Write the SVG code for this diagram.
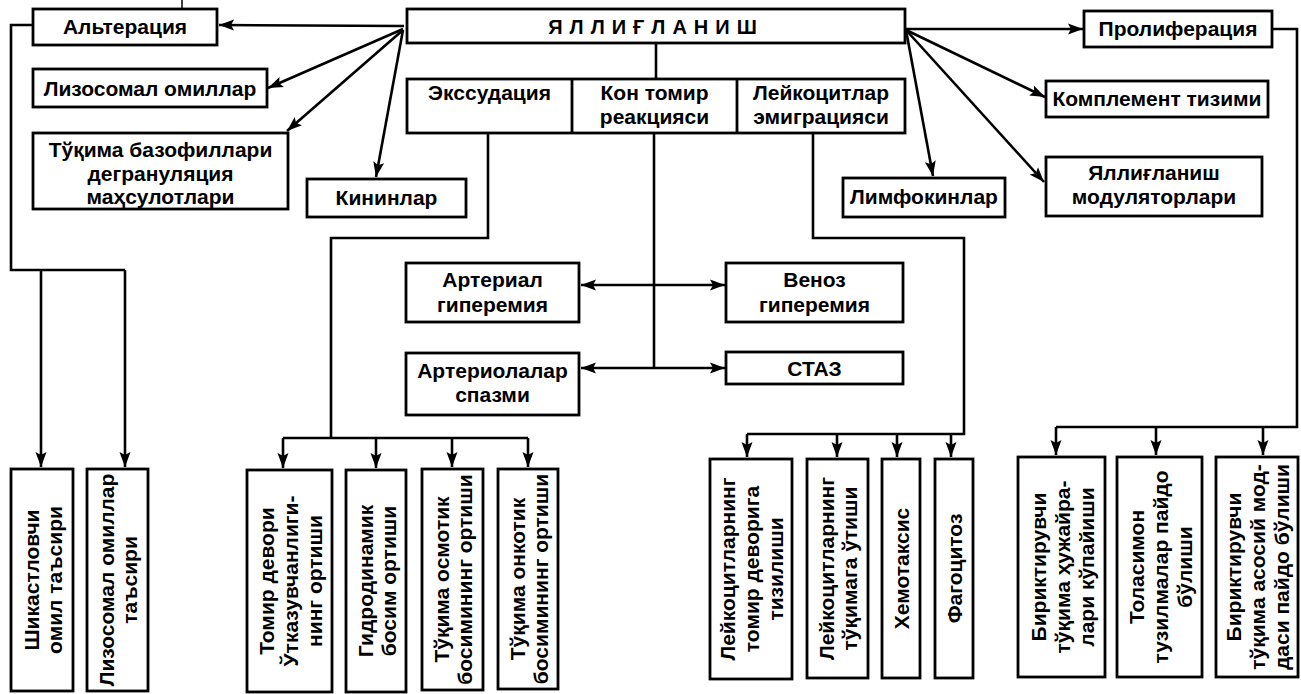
<svg xmlns="http://www.w3.org/2000/svg" width="1301" height="694" viewBox="0 0 1301 694">
  <defs>
    <marker id="arr" markerUnits="userSpaceOnUse" markerWidth="16" markerHeight="12" refX="15" refY="6" orient="auto-start-reverse">
      <path d="M0,0.5 L15,6 L0,11.5 L3,6 z" fill="#000"/>
    </marker>
    <style>
      .box { fill: #fff; stroke: #000; stroke-width: 2.8; }
      .c { fill: none; stroke: #000; stroke-width: 2.6; stroke-linejoin: miter; }
      .a { fill: none; stroke: #000; stroke-width: 2.6; marker-end: url(#arr); }
      .d { fill: none; stroke: #000; stroke-width: 2.6; marker-start: url(#arr); marker-end: url(#arr); }
      text { font-family: "Liberation Sans", Arial, sans-serif; font-size: 21px; font-weight: bold; fill: #000; text-anchor: middle; }
      text.title { font-size: 20px; letter-spacing: 7px; }
    </style>
  </defs>

  <rect width="1301" height="694" fill="#fff"/>

  <!-- connectors -->
  <g id="connectors">
    <line x1="182" y1="0" x2="182" y2="8" stroke="#000" stroke-width="1.5"/>
    <!-- from the central node to the mediators -->
    <path class="a" d="M404,26 L219,25"/>
    <path class="a" d="M403,29 L268,88"/>
    <path class="a" d="M403,30 L287,131"/>
    <path class="a" d="M403,30 L376,177"/>
    <path class="a" d="M905,29 L1083,29"/>
    <path class="a" d="M906,30 L1045,97"/>
    <path class="a" d="M906,30 L933,176"/>
    <path class="a" d="M906,30 L1044,182"/>
    <!-- central node to its three stages -->
    <path class="c" d="M656,43 V79"/>
    <!-- alteration branch -->
    <path class="c" d="M33,25 H11 V270 H125"/>
    <path class="a" d="M41,270 V467"/>
    <path class="a" d="M125,270 V467"/>
    <!-- exudation branch -->
    <path class="c" d="M488,133 V238 H331 V438"/>
    <path class="c" d="M283,438 H528"/>
    <path class="a" d="M283,438 V468"/>
    <path class="a" d="M376,438 V468"/>
    <path class="a" d="M452,438 V467"/>
    <path class="a" d="M528,438 V467"/>
    <!-- vascular reaction branch -->
    <path class="c" d="M654,133 V368"/>
    <path class="d" d="M581,285 H725"/>
    <path class="d" d="M581,368 H725"/>
    <!-- leukocyte emigration branch -->
    <path class="c" d="M813,133 V238 H964 V434 H747"/>
    <path class="a" d="M747,434 V457"/>
    <path class="a" d="M837,434 V457"/>
    <path class="a" d="M897,434 V457"/>
    <path class="a" d="M951,434 V457"/>
    <!-- proliferation branch -->
    <path class="c" d="M1272,29 H1297 V427 H1056"/>
    <path class="a" d="M1056,427 V455"/>
    <path class="a" d="M1156,427 V455"/>
    <path class="a" d="M1263,427 V455"/>
  </g>

  <!-- top row -->
  <g id="n-yalliglanish">
    <rect class="box" x="407" y="9" width="498" height="34"/>
    <text class="title" x="656" y="34">ЯЛЛИҒЛАНИШ</text>
  </g>
  <g id="n-stages">
    <rect class="box" x="407" y="79" width="498" height="54"/>
    <line x1="572" y1="79" x2="572" y2="133" stroke="#000" stroke-width="2.8"/>
    <line x1="737" y1="79" x2="737" y2="133" stroke="#000" stroke-width="2.8"/>
  </g>
  <g id="n-ekssudaciya">
    <text x="489.5" y="100">Экссудация</text>
  </g>
  <g id="n-kon-tomir">
    <text x="654.5" y="100">Кон томир</text>
    <text x="654.5" y="124">реакцияси</text>
  </g>
  <g id="n-leykocit-emigr">
    <text x="821" y="100">Лейкоцитлар</text>
    <text x="821" y="124">эмиграцияси</text>
  </g>

  <g id="n-alteraciya">
    <rect class="box" x="33" y="9" width="184" height="36"/>
    <text x="125" y="34">Альтерация</text>
  </g>
  <g id="n-lizosomal">
    <rect class="box" x="33" y="69" width="234" height="38"/>
    <text x="150" y="96">Лизосомал омиллар</text>
  </g>
  <g id="n-bazofil">
    <rect class="box" x="33" y="133" width="255" height="76"/>
    <text x="160.5" y="157">Тўқима базофиллари</text>
    <text x="160.5" y="181">дегрануляция</text>
    <text x="160.5" y="204">маҳсулотлари</text>
  </g>
  <g id="n-kininlar">
    <rect class="box" x="307" y="179" width="159" height="38"/>
    <text x="386.5" y="205">Кининлар</text>
  </g>
  <g id="n-proliferaciya">
    <rect class="box" x="1084" y="11" width="188" height="36"/>
    <text x="1178" y="36">Пролиферация</text>
  </g>
  <g id="n-komplement">
    <rect class="box" x="1046" y="81" width="222" height="36"/>
    <text x="1157" y="106">Комплемент тизими</text>
  </g>
  <g id="n-modulyator">
    <rect class="box" x="1046" y="157" width="216" height="59"/>
    <text x="1154" y="180">Яллиғланиш</text>
    <text x="1154" y="204">модуляторлари</text>
  </g>
  <g id="n-limfokin">
    <rect class="box" x="843" y="178" width="162" height="39"/>
    <text x="924" y="204">Лимфокинлар</text>
  </g>

  <!-- vascular reactions -->
  <g id="n-arterial">
    <rect class="box" x="406" y="263" width="173" height="59"/>
    <text x="492.5" y="287">Артериал</text>
    <text x="492.5" y="312">гиперемия</text>
  </g>
  <g id="n-venoz">
    <rect class="box" x="726" y="263" width="177" height="59"/>
    <text x="814.5" y="287">Веноз</text>
    <text x="814.5" y="312">гиперемия</text>
  </g>
  <g id="n-spazm">
    <rect class="box" x="406" y="353" width="173" height="62"/>
    <text x="492.5" y="378">Артериолалар</text>
    <text x="492.5" y="402">спазми</text>
  </g>
  <g id="n-staz">
    <rect class="box" x="726" y="352" width="177" height="32"/>
    <text x="814.5" y="376">СТАЗ</text>
  </g>

  <!-- bottom row, vertical labels -->
  <g id="n-shikast">
    <rect class="box" x="11" y="469" width="62" height="222"/>
    <g transform="translate(42,580) rotate(-90)">
      <text x="0" y="-3.5">Шикастловчи</text>
      <text x="0" y="19.5">омил таъсири</text>
    </g>
  </g>
  <g id="n-lizosomal-tasiri">
    <rect class="box" x="87" y="469" width="61" height="222"/>
    <g transform="translate(117.5,580) rotate(-90)">
      <text x="0" y="-3.5">Лизосомал омиллар</text>
      <text x="0" y="19.5">таъсири</text>
    </g>
  </g>
  <g id="n-otkazuvchanlik">
    <rect class="box" x="247" y="470" width="85" height="222"/>
    <g transform="translate(289.5,581) rotate(-90)">
      <text x="0" y="-16">Томир девори</text>
      <text x="0" y="8">Ўтказувчанлиги-</text>
      <text x="0" y="32">нинг ортиши</text>
    </g>
  </g>
  <g id="n-gidrodinamik">
    <rect class="box" x="346" y="470" width="60" height="222"/>
    <g transform="translate(376,581) rotate(-90)">
      <text x="0" y="-3.5">Гидродинамик</text>
      <text x="0" y="19.5">босим ортиши</text>
    </g>
  </g>
  <g id="n-osmotik">
    <rect class="box" x="422" y="469" width="61" height="221"/>
    <g transform="translate(452.5,579.5) rotate(-90)">
      <text x="0" y="-3.5">Тўқима осмотик</text>
      <text x="0" y="19.5">босимининг ортиши</text>
    </g>
  </g>
  <g id="n-onkotik">
    <rect class="box" x="498" y="469" width="60" height="220"/>
    <g transform="translate(528,579) rotate(-90)">
      <text x="0" y="-3.5">Тўқима онкотик</text>
      <text x="0" y="19.5">босимининг ортиши</text>
    </g>
  </g>
  <g id="n-tizilish">
    <rect class="box" x="710" y="459" width="82" height="220"/>
    <g transform="translate(751,569) rotate(-90)">
      <text x="0" y="-16">Лейкоцитларнинг</text>
      <text x="0" y="8">томир деворига</text>
      <text x="0" y="32">тизилиши</text>
    </g>
  </g>
  <g id="n-otish">
    <rect class="box" x="807" y="459" width="61" height="219"/>
    <g transform="translate(837.5,568.5) rotate(-90)">
      <text x="0" y="-3.5">Лейкоцитларнинг</text>
      <text x="0" y="19.5">тўқимага ўтиши</text>
    </g>
  </g>
  <g id="n-hemotaksis">
    <rect class="box" x="882" y="459" width="38" height="219"/>
    <g transform="translate(901,568.5) rotate(-90)">
      <text x="0" y="8">Хемотаксис</text>
    </g>
  </g>
  <g id="n-fagocitoz">
    <rect class="box" x="935" y="459" width="38" height="219"/>
    <g transform="translate(954,568.5) rotate(-90)">
      <text x="0" y="8">Фагоцитоз</text>
    </g>
  </g>
  <g id="n-hujayra">
    <rect class="box" x="1018" y="457" width="87" height="220"/>
    <g transform="translate(1061.5,567) rotate(-90)">
      <text x="0" y="-16">Бириктирувчи</text>
      <text x="0" y="8">тўқима ҳужайра-</text>
      <text x="0" y="32">лари кўпайиши</text>
    </g>
  </g>
  <g id="n-tolasimon">
    <rect class="box" x="1117" y="457" width="85" height="220"/>
    <g transform="translate(1159.5,567) rotate(-90)">
      <text x="0" y="-16">Толасимон</text>
      <text x="0" y="8">тузилмалар пайдо</text>
      <text x="0" y="32">бўлиши</text>
    </g>
  </g>
  <g id="n-asosiy-modda">
    <rect class="box" x="1216" y="457" width="82" height="220"/>
    <g transform="translate(1257,567) rotate(-90)">
      <text x="0" y="-16">Бириктирувчи</text>
      <text x="0" y="8">тўқима асосий мод-</text>
      <text x="0" y="32">даси пайдо бўлиши</text>
    </g>
  </g>
</svg>
